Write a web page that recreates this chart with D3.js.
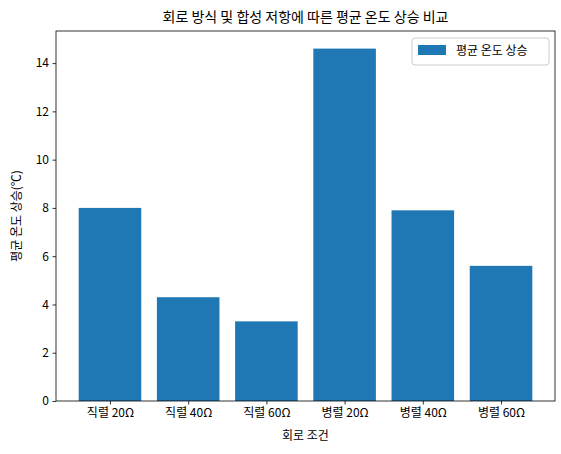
<!DOCTYPE html>
<html><head><meta charset="utf-8">
<script src="https://cdn.jsdelivr.net/npm/d3@7"></script>
<style>body{margin:0;background:#fff}text{font-family:"Noto Sans CJK KR","Noto Sans",sans-serif}</style>
</head><body>
<svg id="c" width="561" height="454"></svg>
<script>
const categories = ["직렬 20Ω","직렬 40Ω","직렬 60Ω","병렬 20Ω","병렬 40Ω","병렬 60Ω"];
const values = [8.0, 4.3, 3.3, 14.6, 7.9, 5.6];
const yTicks = [0,2,4,6,8,10,12,14];
const title = "회로 방식 및 합성 저항에 따른 평균 온도 상승 비교";
const xLabel = "회로 조건";
const yLabel = "평균 온도 상승(℃)";
const legendLabel = "평균 온도 상승";

const svg = d3.select("#c");
const L=56,R=555,T=31,B=401;
const x = d3.scaleLinear().domain([-0.69,5.69]).range([L,R]);
const y = d3.scaleLinear().domain([0,15.33]).range([B,T]);
const color="#1f77b4";
svg.selectAll("rect.bar").data(values).enter().append("rect")
  .attr("x",(d,i)=>x(i-0.4)).attr("width",x(0.8)-x(0))
  .attr("y",d=>y(d)).attr("height",d=>B-y(d)).attr("fill",color);
const ya = svg.append("g").attr("transform",`translate(${L},0)`)
  .call(d3.axisLeft(y).tickValues(yTicks).tickSize(3.5).tickPadding(3.5).tickFormat(d3.format("d")));
const xa = svg.append("g").attr("transform",`translate(0,${B})`)
  .call(d3.axisBottom(x).tickValues(d3.range(categories.length)).tickSize(3.5).tickPadding(3.5).tickFormat(i=>categories[i]));
[ya,xa].forEach(a=>{a.select(".domain").remove();a.selectAll("text").attr("font-size",12).attr("fill","#000");a.selectAll("line").attr("stroke","#000").attr("stroke-width",0.8);});
svg.append("rect").attr("x",L).attr("y",T).attr("width",R-L).attr("height",B-T).attr("fill","none").attr("stroke","#000").attr("stroke-width",0.8);
svg.append("text").attr("x",(L+R)/2).attr("y",22).attr("text-anchor","middle").attr("font-size",14).text(title);
svg.append("text").attr("x",(L+R)/2).attr("y",440).attr("text-anchor","middle").attr("font-size",12).text(xLabel);
svg.append("text").attr("transform",`translate(21,${(T+B)/2}) rotate(-90)`).attr("text-anchor","middle").attr("font-size",12).text(yLabel);
const lg=svg.append("g");
lg.append("rect").attr("x",412).attr("y",38).attr("width",137).attr("height",27).attr("fill","#fff").attr("stroke","#ccc").attr("rx",3);
lg.append("rect").attr("x",418).attr("y",45).attr("width",28).attr("height",10).attr("fill",color);
lg.append("text").attr("x",456).attr("y",55).attr("font-size",12).text(legendLabel);
</script></body></html>
